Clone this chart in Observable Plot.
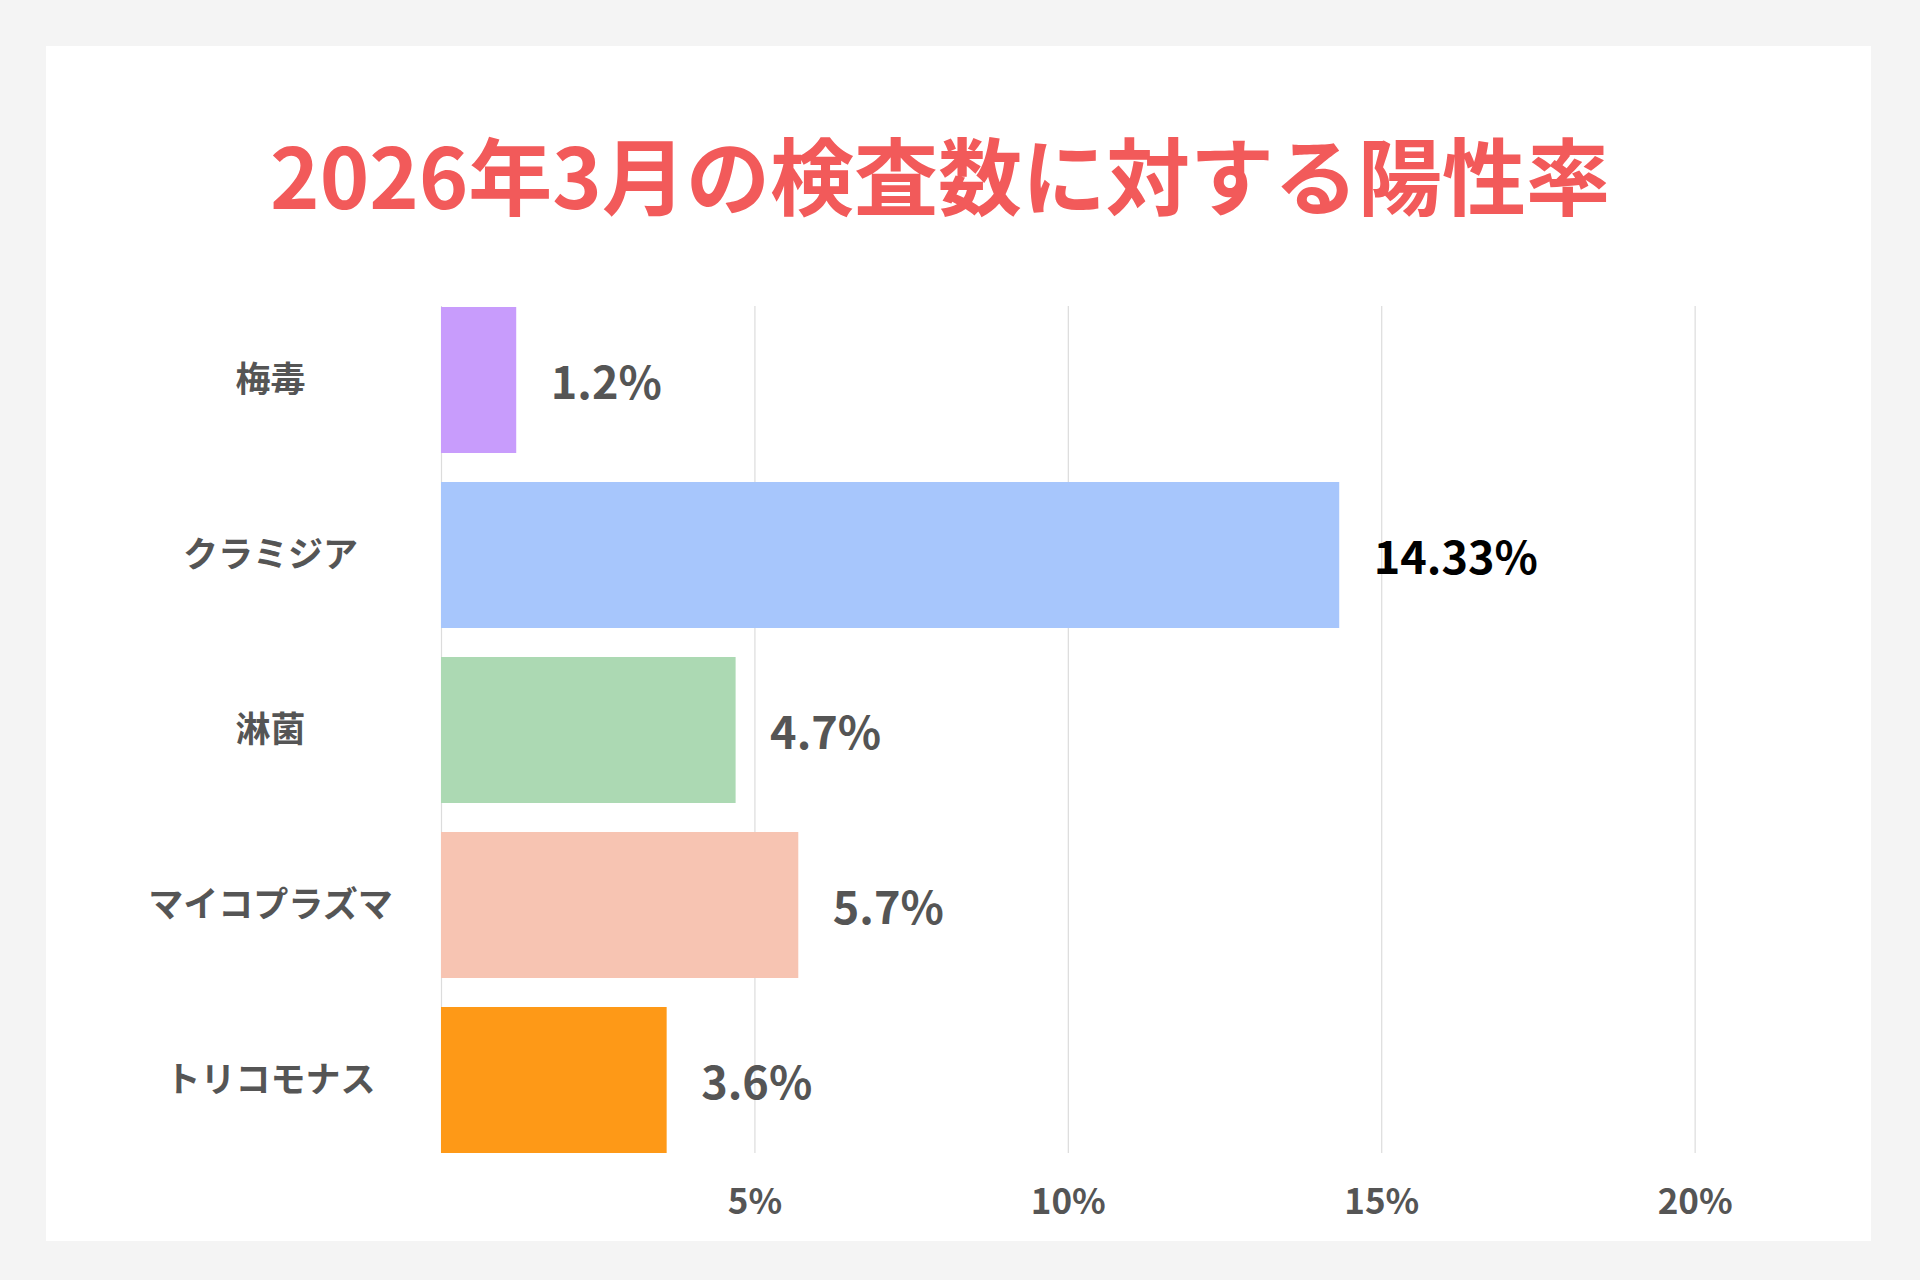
<!DOCTYPE html>
<html lang="ja">
<head>
<meta charset="utf-8">
<script src="https://cdn.jsdelivr.net/npm/d3@7"></script>
<script src="https://cdn.jsdelivr.net/npm/@observablehq/plot@0.6"></script>
<style>
  html, body { margin: 0; padding: 0; }
  body { width: 1920px; height: 1280px; background: #f4f4f4; position: relative; overflow: hidden;
         font-family: "Noto Sans CJK JP", "Noto Sans", sans-serif; }
  #card { position: absolute; left: 46px; top: 46px; width: 1825px; height: 1195px; background: #ffffff; }
  #title { position: absolute; left: 0; top: 131px; width: 1880px; text-align: center;
           font-size: 84px; line-height: 84px; font-weight: 700; color: #f25a5a; }
  #chart { position: absolute; left: 0; top: 0; }
</style>
</head>
<body>
<div id="card"></div>
<div id="title">2026年3月の検査数に対する陽性率</div>
<div id="chart"></div>
<script>
const categories = ["梅毒", "クラミジア", "淋菌", "マイコプラズマ", "トリコモナス"];
const values = [1.2, 14.33, 4.7, 5.7, 3.6];
const barColors = ["#c89cfc", "#a7c6fc", "#acd9b3", "#f7c4b2", "#fe9917"];
const labelColors = ["#555555", "#000000", "#555555", "#555555", "#555555"];
const xTicks = [5, 10, 15, 20];

const data = categories.map((c, i) => ({
  category: c, value: values[i], color: barColors[i], labelColor: labelColors[i]
}));

const chart = Plot.plot({
  width: 1920,
  height: 1280,
  marginTop: 306,
  marginBottom: 127,
  marginLeft: 441,
  marginRight: 100,
  style: { background: "transparent", fontFamily: "'Noto Sans CJK JP', 'Noto Sans', sans-serif" },
  x: { domain: [0, 22] },
  y: { domain: categories, paddingInner: 0.166, paddingOuter: 0 },
  color: { type: "identity" },
  marks: [
    Plot.gridX(xTicks, { stroke: "#dcdcdc", strokeOpacity: 1, strokeWidth: 1.2 }),
    Plot.ruleX([0], { stroke: "#dcdcdc", strokeWidth: 1.2 }),
    Plot.barX(data, { y: "category", x: "value", fill: "color" }),
    Plot.text(data, {
      y: "category", x: "value", text: d => d.value + "%",
      dx: 34, dy: 4, textAnchor: "start", fill: "labelColor",
      fontSize: 45, fontWeight: 700
    }),
    Plot.axisX({
      ticks: xTicks, tickFormat: d => d + "%", tickSize: 0, tickPadding: 36,
      fontSize: 35, fontWeight: 700, color: "#555555", label: null, anchor: "bottom"
    }),
    Plot.axisY({
      tickSize: 0, tickPadding: 171, textAnchor: "middle",
      fontSize: 35, fontWeight: 700, color: "#555555", label: null
    })
  ]
});
document.getElementById("chart").appendChild(chart);
</script>
</body>
</html>
